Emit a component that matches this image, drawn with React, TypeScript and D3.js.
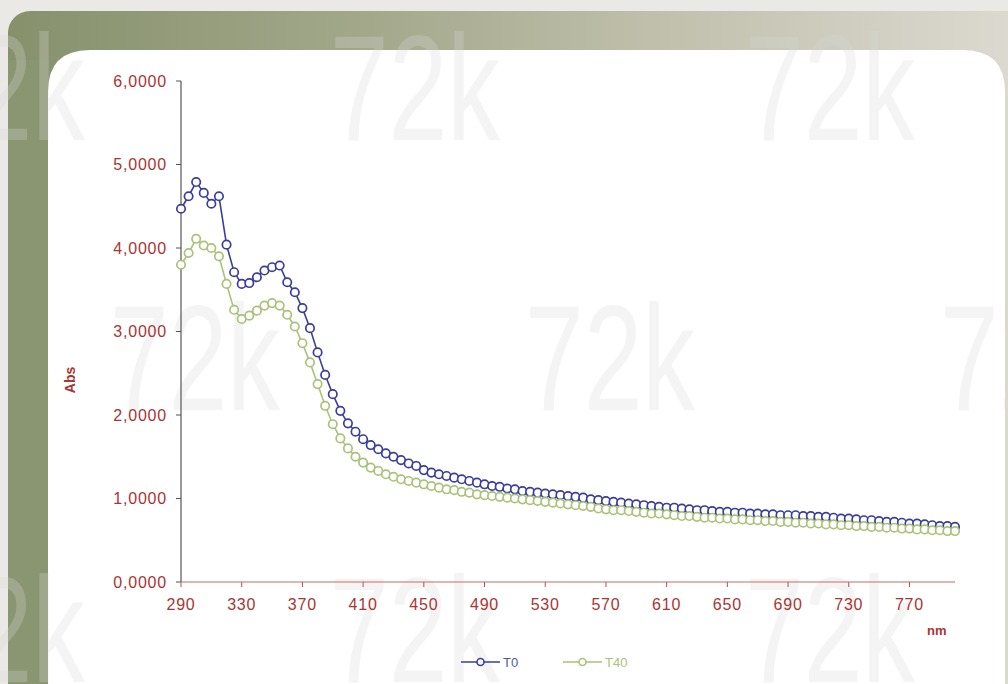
import React from "react";
import * as d3 from "d3";

const wavelengths: number[] = d3.range(290, 801, 5);

const t0Values: number[] = [
  4.47, 4.62, 4.79, 4.66, 4.53, 4.62, 4.04, 3.71, 3.57, 3.58,
  3.65, 3.73, 3.77, 3.79, 3.59, 3.47, 3.28, 3.04, 2.75, 2.48,
  2.25, 2.05, 1.90, 1.80, 1.71, 1.64, 1.59, 1.54, 1.50, 1.46,
  1.42, 1.39, 1.34, 1.31, 1.29, 1.27, 1.25, 1.23, 1.21, 1.19,
  1.17, 1.15, 1.14, 1.12, 1.11, 1.09, 1.08, 1.07, 1.06, 1.05,
  1.04, 1.03, 1.02, 1.01, 0.99, 0.98, 0.97, 0.96, 0.95, 0.94,
  0.93, 0.92, 0.91, 0.90, 0.89, 0.89, 0.88, 0.87, 0.86, 0.86,
  0.85, 0.84, 0.84, 0.83, 0.83, 0.82, 0.82, 0.81, 0.81, 0.80,
  0.80, 0.80, 0.79, 0.79, 0.78, 0.78, 0.77, 0.76, 0.76, 0.75,
  0.74, 0.74, 0.73, 0.72, 0.72, 0.71, 0.70, 0.70, 0.69, 0.68,
  0.67, 0.67, 0.66,
];

const t40Values: number[] = [
  3.80, 3.94, 4.11, 4.03, 4.00, 3.90, 3.57, 3.26, 3.15, 3.19,
  3.25, 3.31, 3.34, 3.31, 3.20, 3.06, 2.86, 2.63, 2.37, 2.11,
  1.89, 1.72, 1.60, 1.50, 1.43, 1.37, 1.33, 1.29, 1.26, 1.23,
  1.21, 1.19, 1.17, 1.15, 1.13, 1.11, 1.10, 1.08, 1.07, 1.05,
  1.04, 1.03, 1.02, 1.01, 1.00, 0.99, 0.98, 0.97, 0.96, 0.95,
  0.94, 0.93, 0.92, 0.91, 0.90, 0.88, 0.87, 0.86, 0.86, 0.85,
  0.84, 0.83, 0.82, 0.82, 0.81, 0.80, 0.79, 0.79, 0.78, 0.77,
  0.77, 0.76, 0.76, 0.75, 0.75, 0.74, 0.74, 0.73, 0.73, 0.72,
  0.72, 0.71, 0.71, 0.70, 0.70, 0.69, 0.69, 0.68, 0.68, 0.67,
  0.67, 0.66, 0.66, 0.65, 0.65, 0.64, 0.64, 0.63, 0.63, 0.62,
  0.62, 0.61, 0.61,
];

const xTicks: number[] = [290, 330, 370, 410, 450, 490, 530, 570, 610, 650, 690, 730, 770];
const yTicks: number[] = [0, 1, 2, 3, 4, 5, 6];
const seriesNames: string[] = ["T0", "T40"];
const watermarkText = "72k";
const watermarkSpots: [number, number][] = [
  [-85, 140], [330, 140], [745, 140],
  [110, 410], [525, 410], [940, 410],
  [-85, 682], [330, 682], [745, 682],
];

const W = 1008;
const H = 684;
const RED = "#a83535";
const BLUE = "#3b3d9c";
const GREEN = "#a9c278";
const FONT = "'Liberation Sans', Arial, sans-serif";

export default function App() {
  const x = d3.scaleLinear().domain([290, 800]).range([181, 955]);
  const y = d3.scaleLinear().domain([0, 6]).range([582, 81]);
  const line = d3
    .line<[number, number]>()
    .x((d) => x(d[0]))
    .y((d) => y(d[1]));
  const fmt = (v: number) => d3.format(".4f")(v).replace(".", ",");

  const series = [
    { name: seriesNames[0], values: t0Values, color: BLUE },
    { name: seriesNames[1], values: t40Values, color: GREEN },
  ];

  const cardPath = `M48,700 L48,92 Q48,50 90,50 L963,50 Q1005,50 1005,92 L1005,700 Z`;

  return (
    <svg
      width={W}
      height={H}
      style={{ position: "absolute", left: 0, top: 0, display: "block" }}
    >
      <defs>
        <linearGradient id="panelGrad" x1="0" y1="0" x2="1" y2="0">
          <stop offset="0%" stopColor="#86916c" />
          <stop offset="35%" stopColor="#a3a88b" />
          <stop offset="65%" stopColor="#c2c1ae" />
          <stop offset="100%" stopColor="#dedbd3" />
        </linearGradient>
      </defs>
      <rect x={0} y={0} width={W} height={H} fill="#ebe9e5" />
      <rect x={8} y={11} width={1030} height={720} rx={22} fill="url(#panelGrad)" />
      <rect x={8} y={60} width={42} height={640} fill="#8a9571" />
      <path d={cardPath} fill="#ffffff" />

      {watermarkSpots.map(([wx, wy], i) => (
        <text
          key={i}
          x={wx}
          y={wy}
          fontFamily={FONT}
          fontSize={150}
          textLength={170}
          lengthAdjust="spacingAndGlyphs"
          fill="#d8d8d8"
          opacity={0.28}
        >
          {watermarkText}
        </text>
      ))}

      {/* Y axis */}
      <line x1={181} x2={181} y1={y(6)} y2={y(0)} stroke="#555" strokeWidth={1.2} />
      {yTicks.map((t) => (
        <g key={t}>
          <line x1={176} x2={181} y1={y(t)} y2={y(t)} stroke="#555" strokeWidth={1} />
          <text
            x={167}
            y={y(t)}
            dy="0.36em"
            textAnchor="end"
            fontFamily={FONT}
            fontSize={16}
            letterSpacing={0.8}
            fill={RED}
          >
            {fmt(t)}
          </text>
        </g>
      ))}

      {/* X axis */}
      <line x1={x(290)} x2={x(800)} y1={y(0)} y2={y(0)} stroke="#c96a6a" strokeWidth={1.2} />
      {xTicks.map((t) => (
        <g key={t}>
          <line x1={x(t)} x2={x(t)} y1={y(0)} y2={y(0) + 5} stroke="#b35050" strokeWidth={1} />
          <text
            x={x(t)}
            y={610}
            textAnchor="middle"
            fontFamily={FONT}
            fontSize={16}
            letterSpacing={0.8}
            fill={RED}
          >
            {t}
          </text>
        </g>
      ))}

      <text
        x={927}
        y={635}
        fontFamily={FONT}
        fontSize={13}
        fontWeight="bold"
        fill={RED}
      >
        nm
      </text>
      <text
        transform={`translate(75,380) rotate(-90)`}
        textAnchor="middle"
        fontFamily={FONT}
        fontSize={14}
        fontWeight="bold"
        fill={RED}
      >
        Abs
      </text>

      {/* Series */}
      {series.map((s) => {
        const pts: [number, number][] = wavelengths.map((w, i) => [w, s.values[i]]);
        return (
          <g key={s.name}>
            <path d={line(pts) || ""} fill="none" stroke={s.color} strokeWidth={1.6} />
            {pts.map((p, i) => (
              <circle
                key={i}
                cx={x(p[0])}
                cy={y(p[1])}
                r={4.2}
                fill="#ffffff"
                stroke={s.color}
                strokeWidth={1.7}
              />
            ))}
          </g>
        );
      })}

      {/* Legend */}
      {series.map((s, i) => {
        const lx = i === 0 ? 461 : 563;
        return (
          <g key={s.name}>
            <line x1={lx} x2={lx + 39} y1={662} y2={662} stroke={s.color} strokeWidth={1.6} />
            <circle cx={lx + 19.5} cy={662} r={3.5} fill="#fff" stroke={s.color} strokeWidth={1.6} />
            <text
              x={lx + 42}
              y={666.5}
              fontFamily={FONT}
              fontSize={13}
              fill={i === 0 ? "#4d5aa8" : GREEN}
            >
              {s.name}
            </text>
          </g>
        );
      })}
    </svg>
  );
}
